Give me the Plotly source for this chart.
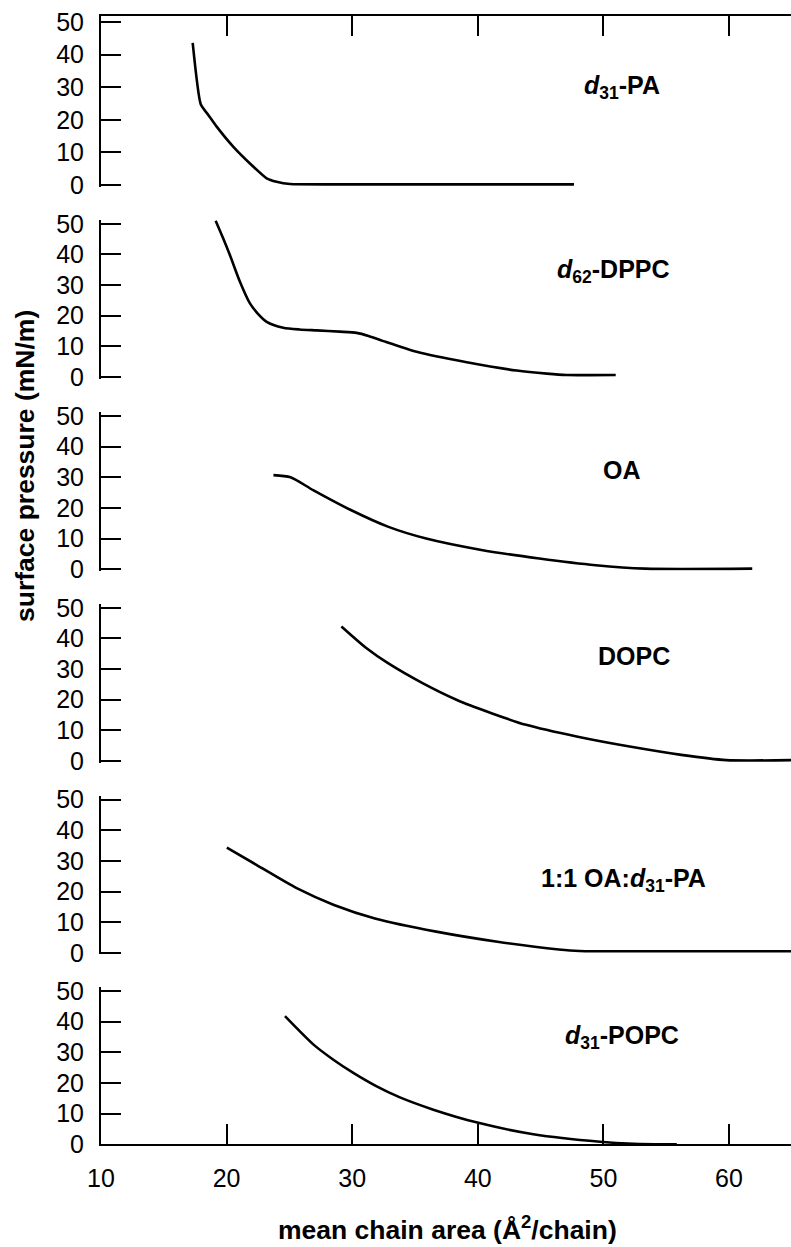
import plotly.graph_objects as go

# ---------------- data ----------------
pa_x = [17.30, 17.94, 18.6, 19.21, 20.54, 21.86, 23.19, 23.98, 25.05, 30.0, 40.0, 47.66]
pa_y = [43.6, 24.8, 21.2, 17.9, 11.7, 6.6, 2.05, 1.0, 0.3, 0.2, 0.2, 0.2]

dppc_x = [19.13, 19.7, 20.27, 21.07, 21.86, 22.5, 23.19, 24.51, 25.8, 27.17, 29.0, 30.36,
          31.3, 32.48, 35.13, 39.12, 43.1, 45.5, 47.08, 50.98]
dppc_y = [51.0, 45.5, 39.7, 31.0, 24.0, 20.6, 18.0, 16.1, 15.5, 15.2, 14.8, 14.4,
          13.4, 11.7, 8.2, 4.8, 2.1, 1.1, 0.65, 0.65]

oa_x = [23.73, 25.09, 26.89, 29.89, 32.89, 35.89, 40.39, 44.89, 49.39, 53.3, 61.85]
oa_y = [30.7, 30.0, 25.8, 19.3, 13.8, 10.0, 6.2, 3.5, 1.3, 0.2, 0.2]

dopc_x = [29.14, 31.2, 32.85, 35.6, 38.34, 41.09, 43.84, 47.96, 52.09, 56.2, 59.78, 65.0]
dopc_y = [43.9, 36.6, 31.9, 25.4, 19.9, 15.6, 11.8, 7.9, 4.7, 2.0, 0.3, 0.3]

mix_x = [20.02, 22.37, 25.62, 28.55, 31.81, 36.69, 41.57, 46.45, 48.08, 55.0, 65.0]
mix_y = [34.3, 28.7, 21.0, 15.6, 11.2, 6.9, 3.6, 1.1, 0.6, 0.5, 0.5]

popc_x = [24.65, 26.9, 28.5, 30.09, 31.95, 33.8, 36.46, 40.04, 44.42, 49.73, 52.38, 55.84]
popc_y = [41.8, 32.6, 27.6, 23.3, 18.9, 15.3, 11.3, 7.0, 3.3, 0.85, 0.2, 0.0]

labels = ["<b><i>d</i><sub>31</sub>-PA</b>",
          "<b><i>d</i><sub>62</sub>-DPPC</b>",
          "<b>OA</b>",
          "<b>DOPC</b>",
          "<b>1:1 OA:<i>d</i><sub>31</sub>-PA</b>",
          "<b><i>d</i><sub>31</sub>-POPC</b>"]

y_ticks = [0, 10, 20, 30, 40, 50]
y_ticktext = ["0", "10", "20", "30", "40", "50"]
x_ticks = [10, 20, 30, 40, 50, 60]
x_ticktext = ["10", "20", "30", "40", "50", "60"]

x_title = "<b>mean chain area (Å<sup>2</sup>/chain)</b>"
y_title = "<b>surface pressure (mN/m)</b>"

series = [(pa_x, pa_y), (dppc_x, dppc_y), (oa_x, oa_y),
          (dopc_x, dopc_y), (mix_x, mix_y), (popc_x, popc_y)]

# ---------------- layout geometry ----------------
W, H = 791, 1247
L = 101
PXX = 12.56                      # pixels per x unit
XMAX = 10 + (W - L) / PXX
FONT = "Arial, Liberation Sans, Helvetica, sans-serif"

# pixel of y=0, pixels per unit, range low, range high
geo = [(185.0, 3.26, -0.5, 51.84),
       (377.0, 3.065, -0.5, 51.2),
       (569.2, 3.065, -0.5, 51.2),
       (761.0, 3.065, -0.5, 51.2),
       (952.8, 3.065, -0.5, 51.2),
       (1144.3, 3.065, 0.0, 51.2)]

label_pos = [(622, 87), (613, 271), (622, 470), (634, 656), (623, 880), (622, 1037)]


def py(pix):
    return 1 - pix / H


def px(pix):
    return (pix - L) / (W - L)


fig = go.Figure()
layout = dict(
    width=W, height=H, template="none",
    margin=dict(l=L, r=0, t=0, b=0),
    paper_bgcolor="white", plot_bgcolor="white",
    showlegend=False,
    font=dict(family=FONT, color="black", size=25),
)

for i, ((xs, ys), (p0, s, lo, hi)) in enumerate(zip(series, geo)):
    n = i + 1
    xa = "x" if n == 1 else f"x{n}"
    ya = "y" if n == 1 else f"y{n}"
    fig.add_trace(go.Scatter(x=xs, y=ys, mode="lines", xaxis=xa, yaxis=ya,
                             line=dict(color="black", width=2.6, shape="spline",
                                       smoothing=0.5 if n == 1 else 0.7)))
    dom = [py(p0 - lo * s), py(p0 - hi * s)]
    xkey = "xaxis" if n == 1 else f"xaxis{n}"
    ykey = "yaxis" if n == 1 else f"yaxis{n}"
    xdict = dict(domain=[0, 1], range=[10, XMAX], anchor=ya, showgrid=False, zeroline=False,
                 fixedrange=True)
    if n == 1:
        xdict.update(side="top", showline=True, linecolor="black", linewidth=2,
                     ticks="inside", ticklen=20, tickwidth=2, tickcolor="black",
                     tickvals=x_ticks, showticklabels=False)
    elif n == 6:
        xdict.update(side="bottom", showline=True, linecolor="black", linewidth=2,
                     ticks="inside", ticklen=20, tickwidth=2, tickcolor="black",
                     tickvals=x_ticks, ticktext=x_ticktext, showticklabels=True,
                     tickfont=dict(size=25), ticklabelstandoff=11)
    else:
        xdict.update(visible=False)
    layout[xkey] = xdict
    layout[ykey] = dict(domain=dom, range=[lo, hi], anchor=xa, showgrid=False, zeroline=False,
                        showline=True, linecolor="black", linewidth=2,
                        ticks="inside", ticklen=20, tickwidth=2, tickcolor="black",
                        tickvals=y_ticks, ticktext=y_ticktext, tickfont=dict(size=25),
                        ticklabelstandoff=10, fixedrange=True)
    # right-hand mirrored ticks (no line)
    layout[f"yaxis{n + 6}"] = dict(overlaying=ya, anchor=xa, side="right", range=[lo, hi],
                                   showgrid=False, zeroline=False, showline=False,
                                   ticks="inside", ticklen=14, tickwidth=2, tickcolor="black",
                                   tickvals=y_ticks, showticklabels=False, fixedrange=True)

annotations = []
for txt, (lx, ly) in zip(labels, label_pos):
    annotations.append(dict(text=txt, xref="paper", yref="paper", x=px(lx), y=py(ly),
                            xanchor="center", yanchor="middle", showarrow=False,
                            font=dict(size=25, family=FONT, color="black")))
annotations.append(dict(text=x_title, xref="paper", yref="paper", x=px(448), y=py(1228),
                        xanchor="center", yanchor="middle", showarrow=False,
                        font=dict(size=26.5, family=FONT, color="black")))
annotations.append(dict(text=y_title, xref="paper", yref="paper", x=px(25), y=py(466),
                        xanchor="center", yanchor="middle", showarrow=False, textangle=-90,
                        font=dict(size=26.5, family=FONT, color="black")))
layout["annotations"] = annotations

fig.update_layout(**layout)
fig.write_html("out.html")
